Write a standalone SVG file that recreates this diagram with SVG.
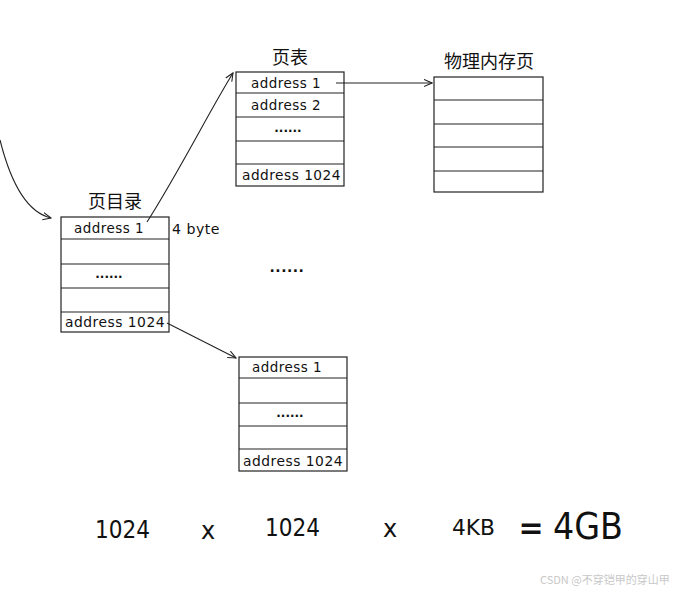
<svg xmlns="http://www.w3.org/2000/svg" width="696" height="594" viewBox="0 0 696 594">
<defs>
<style>
.box{fill:#fff;stroke:#222;stroke-width:1.2}
.ln{stroke:#222;stroke-width:1.2}
.t{font-family:"DejaVu Sans","Noto Sans",sans-serif;font-size:14px;fill:#111;letter-spacing:0.5px}
.d{font-family:"DejaVu Sans",sans-serif;font-size:12px;fill:#111;font-weight:bold}
.cn{font-family:"Noto Sans CJK SC","Noto Sans",sans-serif;font-size:18px;fill:#111}
.big{font-family:"DejaVu Sans",sans-serif;fill:#111}
.c{fill:none;stroke:#222;stroke-width:1.1}
</style>
<marker id="ah" viewBox="0 0 10 10" refX="9" refY="5" markerWidth="9" markerHeight="9" orient="auto" markerUnits="userSpaceOnUse">
<path d="M0,1 L9,5 L0,9" fill="none" stroke="#222" stroke-width="1.2"/>
</marker>
</defs>
<rect width="696" height="594" fill="#fff"/>
<g id="page-directory">
<text class="cn" x="115" y="208" text-anchor="middle">页目录</text>
<rect class="box" x="61" y="217" width="108" height="115"/>
<line class="ln" x1="61" y1="239" x2="169" y2="239"/>
<line class="ln" x1="61" y1="264" x2="169" y2="264"/>
<line class="ln" x1="61" y1="288" x2="169" y2="288"/>
<line class="ln" x1="61" y1="312" x2="169" y2="312"/>
<text class="t" x="74" y="233" textLength="70" lengthAdjust="spacingAndGlyphs">address 1</text>
<text class="d" x="109" y="278" text-anchor="middle">......</text>
<text class="t" x="65" y="327" textLength="100" lengthAdjust="spacingAndGlyphs">address 1024</text>
<text class="t" x="172" y="234" textLength="48" lengthAdjust="spacingAndGlyphs">4 byte</text>
</g>
<g id="page-table-1">
<text class="cn" x="290" y="64" text-anchor="middle">页表</text>
<rect class="box" x="236" y="72" width="108" height="114"/>
<line class="ln" x1="236" y1="93" x2="344" y2="93"/>
<line class="ln" x1="236" y1="117" x2="344" y2="117"/>
<line class="ln" x1="236" y1="141" x2="344" y2="141"/>
<line class="ln" x1="236" y1="164" x2="344" y2="164"/>
<text class="t" x="251" y="88" textLength="70" lengthAdjust="spacingAndGlyphs">address 1</text>
<text class="t" x="251" y="110" textLength="70" lengthAdjust="spacingAndGlyphs">address 2</text>
<text class="d" x="288" y="132" text-anchor="middle">......</text>
<text class="t" x="242" y="180" textLength="99" lengthAdjust="spacingAndGlyphs">address 1024</text>
</g>
<g id="physical-page">
<text class="cn" x="489" y="68" text-anchor="middle">物理内存页</text>
<rect class="box" x="434" y="77" width="109" height="115"/>
<line class="ln" x1="434" y1="100" x2="543" y2="100"/>
<line class="ln" x1="434" y1="124" x2="543" y2="124"/>
<line class="ln" x1="434" y1="147" x2="543" y2="147"/>
<line class="ln" x1="434" y1="171" x2="543" y2="171"/>
</g>
<g id="page-table-1024">
<rect class="box" x="239" y="357" width="108" height="114"/>
<line class="ln" x1="239" y1="378" x2="347" y2="378"/>
<line class="ln" x1="239" y1="403" x2="347" y2="403"/>
<line class="ln" x1="239" y1="426" x2="347" y2="426"/>
<line class="ln" x1="239" y1="449" x2="347" y2="449"/>
<text class="t" x="252" y="372" textLength="70" lengthAdjust="spacingAndGlyphs">address 1</text>
<text class="d" x="290" y="417" text-anchor="middle">......</text>
<text class="t" x="243" y="466" textLength="100" lengthAdjust="spacingAndGlyphs">address 1024</text>
</g>
<g id="connectors">
<path class="c" d="M0,140 C10,180 25,212 51,218" marker-end="url(#ah)"/>
<path class="c" d="M147,222 C180,170 210,110 233,73" marker-end="url(#ah)"/>
<path class="c" d="M336,83 L432,83" marker-end="url(#ah)"/>
<path class="c" d="M167,323 L236,358" marker-end="url(#ah)"/>
</g>
<text class="t" x="287" y="272" text-anchor="middle" font-size="14" font-weight="bold">......</text>
<g id="formula">
<text class="big" x="95" y="538" font-size="25" textLength="55" lengthAdjust="spacingAndGlyphs">1024</text>
<text class="big" x="208" y="539" font-size="24" text-anchor="middle">x</text>
<text class="big" x="265" y="536" font-size="25" textLength="55" lengthAdjust="spacingAndGlyphs">1024</text>
<text class="big" x="390" y="537" font-size="24" text-anchor="middle">x</text>
<text class="big" x="452" y="535" font-size="22" textLength="43" lengthAdjust="spacingAndGlyphs">4KB</text>
<text class="big" x="531" y="538" font-size="30" text-anchor="middle" font-weight="bold">=</text>
<text class="big" x="553" y="539" font-size="38" textLength="70" lengthAdjust="spacingAndGlyphs">4GB</text>
</g>
<text x="540" y="584" font-family="Noto Sans CJK SC,sans-serif" font-size="11" fill="#c8c8c8">CSDN @不穿铠甲的穿山甲</text>
</svg>
